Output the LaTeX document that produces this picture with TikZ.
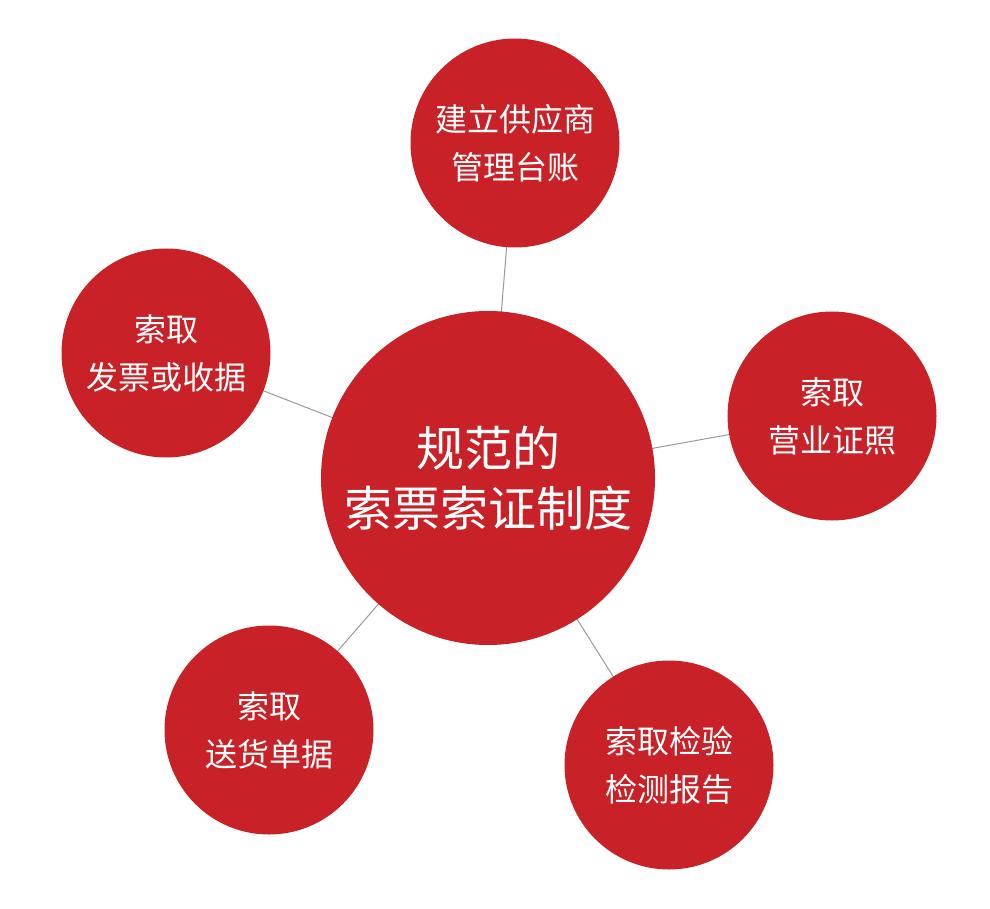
\documentclass[tikz,border=0pt]{standalone}
\usepackage{fontspec}
\newfontfamily\cjk{Noto Sans CJK SC}
\definecolor{cred}{HTML}{C82128}
\definecolor{cline}{HTML}{999999}
\begin{document}
\begin{tikzpicture}[x=1pt,y=-1pt,
  bubble/.style={circle,fill=cred,draw=none,inner sep=0pt,text=white,align=center,font=\cjk\fontsize{32}{48}\selectfont},
  hub/.style={bubble,font=\cjk\fontsize{48}{60}\selectfont},
  link/.style={draw=cline,line width=1pt}]
\useasboundingbox (0,0) rectangle (990,909);
\coordinate (cC) at (488,478);
\coordinate (cT) at (515,143);
\coordinate (cL) at (166,353);
\coordinate (cR) at (832,416);
\coordinate (cBL) at (269,730);
\coordinate (cBR) at (669,765);
\draw[link] (cC) -- (cT);
\draw[link] (cC) -- (cL);
\draw[link] (cC) -- (cR);
\draw[link] (cC) -- (cBL);
\draw[link] (cC) -- (cBR);
\node[hub,minimum size=334pt] (C) at (cC) {规范的\\索票索证制度};
\node[bubble,minimum size=209pt] (T) at (cT) {建立供应商\\管理台账};
\node[bubble,minimum size=209pt] (L) at (cL) {索取\\发票或收据};
\node[bubble,minimum size=209pt] (R) at (cR) {索取\\营业证照};
\node[bubble,minimum size=209pt] (BL) at (cBL) {索取\\送货单据};
\node[bubble,minimum size=209pt] (BR) at (cBR) {索取检验\\检测报告};
\end{tikzpicture}
\end{document}
